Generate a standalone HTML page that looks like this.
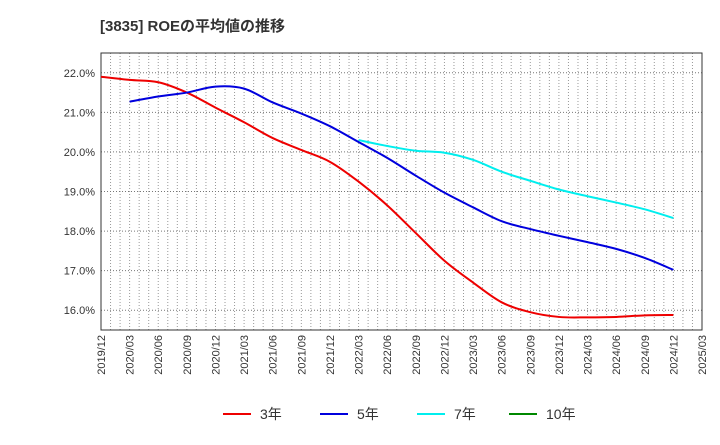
<!DOCTYPE html>
<html><head><meta charset="utf-8"><style>
body{margin:0;background:#fff;font-family:"Liberation Sans","Noto Sans CJK JP",sans-serif}
</style></head><body>
<svg width="720" height="440" xmlns="http://www.w3.org/2000/svg">
<text x="100" y="31" font-size="15" font-weight="bold" fill="#333" font-family="Liberation Sans, Noto Sans CJK JP, sans-serif">[3835]  ROEの平均値の推移</text>
<g id="grid"></g><g id="axes"></g><g id="series"></g><g id="legend"></g>
</svg>
<script>
const categories=["2019/12","2020/03","2020/06","2020/09","2020/12","2021/03","2021/06","2021/09","2021/12","2022/03","2022/06","2022/09","2022/12","2023/03","2023/06","2023/09","2023/12","2024/03","2024/06","2024/09","2024/12","2025/03"];
const yTicks=[16,17,18,19,20,21,22];
const s3=[21.9,21.82,21.76,21.5,21.12,20.75,20.35,20.05,19.75,19.25,18.65,17.95,17.25,16.7,16.2,15.95,15.83,15.82,15.83,15.87,15.88];
const s5=[null,21.27,21.4,21.5,21.65,21.6,21.25,20.97,20.65,20.25,19.85,19.4,18.97,18.6,18.25,18.05,17.88,17.72,17.55,17.32,17.02];
const s7=[null,null,null,null,null,null,null,null,null,20.3,20.15,20.03,19.98,19.8,19.5,19.27,19.05,18.88,18.72,18.55,18.33];
const s10=[];
const L=101,R=702,T=53,B=330,ymin=15.5,ymax=22.5;
const NS="http://www.w3.org/2000/svg";
const xq=i=>L+(R-L)*i/(categories.length-1);
const y=v=>B-(v-ymin)/(ymax-ymin)*(B-T);
function mk(t,a,p){const e=document.createElementNS(NS,t);for(const k in a)e.setAttribute(k,a[k]);p.appendChild(e);return e;}
const grid=document.getElementById('grid'),axes=document.getElementById('axes'),ser=document.getElementById('series'),leg=document.getElementById('legend');
mk('rect',{x:L,y:T,width:R-L,height:B-T,fill:'#fff'},grid);
const months=(categories.length-1)*3;
for(let m=1;m<months;m++){const x=L+(R-L)*m/months;const l=mk('line',{x1:x,x2:x,y1:T,y2:B,stroke:'#999','stroke-dasharray':'1,2','stroke-width':1},grid);

}
yTicks.forEach(v=>{const l=mk('line',{x1:L,x2:R,y1:y(v),y2:y(v),stroke:'#777','stroke-dasharray':'1,2'},grid);


const t=mk('text',{x:L-6,y:y(v)+4,'text-anchor':'end','font-size':11,fill:'#333'},axes);t.textContent=v.toFixed(1)+'%';

});
categories.forEach((c,i)=>{const x=xq(i);const t=mk('text',{transform:`translate(${x+4},${B+5}) rotate(-90)`,'text-anchor':'end','font-size':11,fill:'#333'},axes);t.textContent=c;

});
const fr=mk('rect',{x:L,y:T,width:R-L,height:B-T,fill:'none',stroke:'#333'},axes);


function path(arr){const p=[];arr.forEach((v,i)=>{if(v!=null)p.push([xq(i),y(v)]);});if(p.length<2)return'';
let d=`M${p[0][0]},${p[0][1]}`;for(let i=0;i<p.length-1;i++){const p0=p[i-1]||p[i],p1=p[i],p2=p[i+1],p3=p[i+2]||p2;
d+=` C${p1[0]+(p2[0]-p0[0])/6},${p1[1]+(p2[1]-p0[1])/6} ${p2[0]-(p3[0]-p1[0])/6},${p2[1]-(p3[1]-p1[1])/6} ${p2[0]},${p2[1]}`;}return d;}
const series=[[s3,'#ee0000','3年','line-3yr'],[s5,'#0000dd','5年','line-5yr'],[s7,'#00eeee','7年','line-7yr'],[s10,'#008800','10年','line-10yr']];
series.forEach(([a,c,n,id],k)=>{const d=path(a);if(d){const e=mk('path',{d,fill:'none',stroke:c,'stroke-width':2},ser);

}
const lx=[223,320,417,509][k];
const g=mk('g',{},leg);


mk('line',{x1:lx,x2:lx+28,y1:414,y2:414,stroke:c,'stroke-width':2},g);
const t=mk('text',{x:lx+37,y:419,'font-size':14,fill:'#333'},g);t.textContent=n;});
</script>
</body></html>
